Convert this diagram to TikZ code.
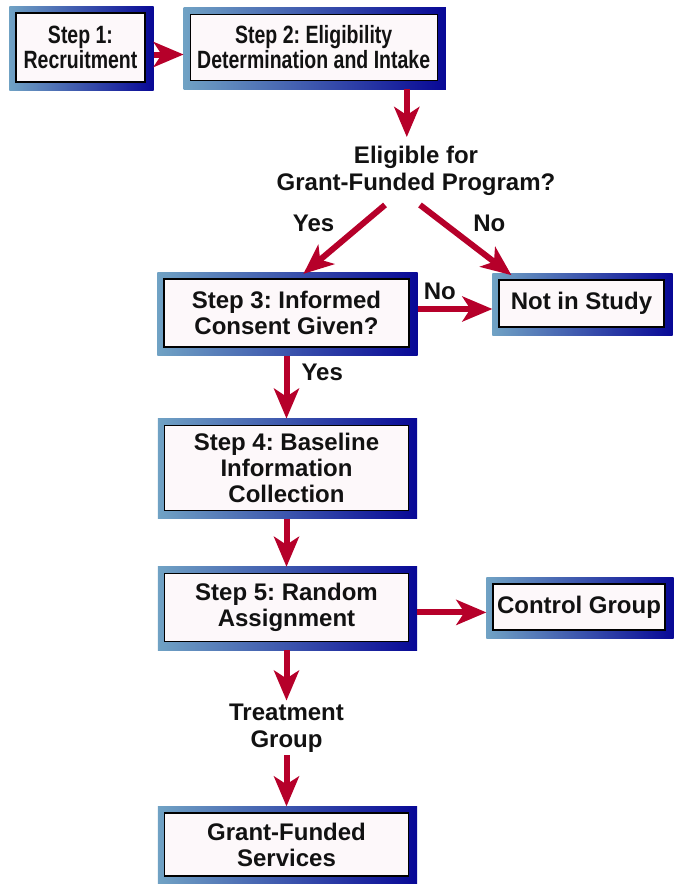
\documentclass[tikz,border=0pt]{standalone}
\usepackage{fontspec}
\setmainfont{Liberation Sans}
\newfontfamily\narrowfont{Liberation Sans}[FakeStretch=0.78]
\frenchspacing
\usetikzlibrary{positioning,arrows.meta,backgrounds}
\definecolor{arrowred}{RGB}{182,0,42}
\definecolor{frameL}{RGB}{112,162,196}
\definecolor{frameR}{RGB}{8,8,150}
\definecolor{boxfill}{RGB}{253,248,250}
\definecolor{ink}{RGB}{18,18,18}

\begin{document}
\begin{tikzpicture}[x=1pt,y=-1pt,>={Stealth[length=30pt,width=25pt,inset=8pt]},
  stepbox/.style={draw=black,line width=1.2pt,fill=boxfill,align=center,inner sep=0pt,text=ink,font=\fontsize{24}{26}\selectfont\bfseries},
  narrowtext/.style={font=\narrowfont\fontsize{25}{25}\selectfont\bfseries},
  plain/.style={align=center,inner sep=0pt,text=ink,font=\fontsize{24}{27}\selectfont\bfseries},
  flow/.style={->,draw=arrowred,line width=6pt,shorten <=8pt,shorten >=6pt}]
\useasboundingbox (0,0) rectangle (673,884);

\node[stepbox,narrowtext,minimum width=129pt,minimum height=69pt] (s1) at (80.5,47.5) {Step 1:\\Recruitment};
\node[stepbox,narrowtext,minimum width=247pt,minimum height=66pt] (s2) [right=44pt of s1] {Step 2: Eligibility\\Determination and Intake};
\node[plain,inner sep=9pt] (q) at (416,171) {Eligible for\\Grant-Funded Program?};
\node[stepbox,minimum width=245pt,minimum height=68pt] (s3) at (286.5,313) {Step 3: Informed\\Consent Given?};
\node[stepbox,minimum width=165pt,minimum height=47pt] (nis) at (581.5,303.5) {Not in Study};
\node[stepbox,minimum width=244pt,minimum height=85pt] (s4) [below=77pt of s3] {Step 4: Baseline\\Information\\Collection};
\node[stepbox,minimum width=244pt,minimum height=68pt] (s5) [below=62pt of s4] {Step 5: Random\\Assignment};
\node[stepbox,minimum width=172pt,minimum height=46pt] (ctrl) at (579,607) {Control Group};
\node[plain,inner sep=3pt] (treat) at (286.5,728) {Treatment\\Group};
\node[stepbox,minimum width=244pt,minimum height=63pt] (s6) at (286.5,844.5) {Grant-Funded\\Services};

% shaded frames behind the boxes
\begin{scope}[on background layer]
\foreach \n in {s1,s2,s3,nis,s4,s5,ctrl,s6}
  \shade[left color=frameL,right color=frameR] ([shift={(-6pt,6pt)}]\n.north west) rectangle ([shift={(8pt,-8pt)}]\n.south east);
\end{scope}

\draw[flow] ([yshift=-7pt]s1.east) -- ([yshift=-7pt]s1.east -| s2.west);
\draw[flow,shorten >=0pt] ([xshift=-31pt]s2.south east) -- ([xshift=-31pt]s2.south east |- q.north);
\draw[flow,shorten <=0pt,shorten >=7pt] ([xshift=-31pt]q.south) -- ([xshift=11.5pt]s3.north)
  node[plain,pos=0.25,left=26pt]{Yes};
\draw[flow,shorten <=0pt,shorten >=7pt] ([xshift=4pt]q.south) -- ([xshift=-64.5pt]nis.north)
  node[plain,pos=0.25,right=26pt]{No};
\draw[flow] ([yshift=4pt]s3.east) -- ([yshift=4pt]s3.east -| nis.west)
  node[plain,pos=0.34,above=6pt]{No};
\draw[flow] (s3) -- (s4) node[plain,pos=0.32,right=12pt]{Yes};
\draw[flow] (s4) -- (s5);
\draw[flow] ([yshift=-5pt]s5.east) -- ([yshift=-5pt]s5.east -| ctrl.west);
\draw[flow,shorten >=0pt] (s5) -- (treat);
\draw[flow,shorten <=0pt] (treat) -- (s6);
\end{tikzpicture}
\end{document}
